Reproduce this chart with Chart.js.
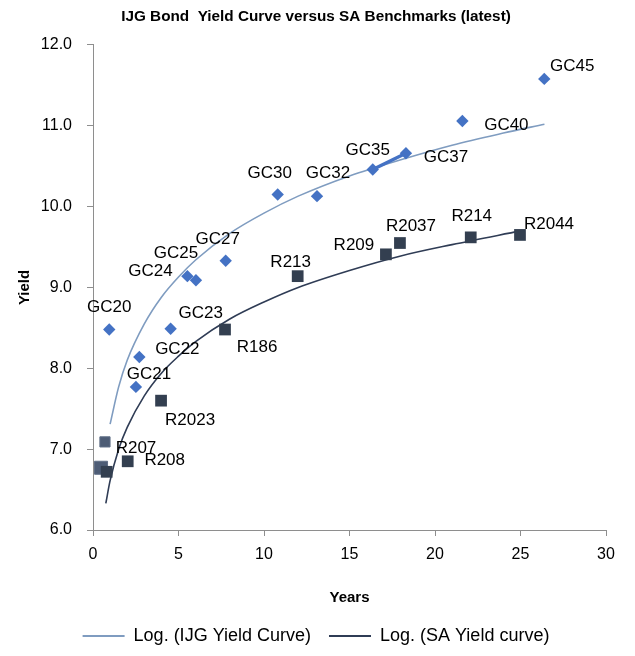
<!DOCTYPE html>
<html>
<head>
<meta charset="utf-8">
<script src="https://cdn.jsdelivr.net/npm/chart.js@4/dist/chart.umd.min.js"></script>
<style>
  html, body { margin: 0; padding: 0; background: #ffffff; }
  #wrap { width: 635px; height: 656px; }
</style>
</head>
<body>
<div id="wrap"><canvas id="c" width="635" height="656"></canvas></div>
<script>
// ---- data ----
const chartTitle = 'IJG Bond  Yield Curve versus SA Benchmarks (latest)';
const xTitle = 'Years';
const yTitle = 'Yield';

const ijgLabels = ['GC20','GC21','GC22','GC23','GC24','GC25','GC27','GC30','GC32','GC35','GC37','GC40','GC45'];
const ijgYears  = [0.95, 2.51, 2.71, 4.54, 5.52, 6.02, 7.76, 10.80, 13.10, 16.36, 18.30, 21.60, 26.39];
const ijgYields = [8.48, 7.77, 8.14, 8.49, 9.14, 9.09, 9.33, 10.15, 10.13, 10.46, 10.66, 11.06, 11.58];

const saLabels = ['', 'R208', 'R2023', 'R186', 'R213', 'R209', 'R2037', 'R214', 'R2044'];
const saYears  = [0.80, 2.03, 3.98, 7.72, 11.97, 17.13, 17.95, 22.09, 24.97];
const saYields = [6.72, 6.85, 7.60, 8.48, 9.14, 9.41, 9.55, 9.62, 9.65];

const saShortLabels = ['R207', ''];
const saShortYears  = [0.70, 0.47];
const saShortYields = [7.09, 6.77];

const ijgTrendYears  = [1.0, 1.5, 2, 3, 4, 5, 6, 8, 10, 12, 15, 18, 21, 24, 26.4];
const ijgTrendYields = [7.31, 7.77, 8.10, 8.55, 8.88, 9.13, 9.34, 9.67, 9.92, 10.13, 10.38, 10.58, 10.76, 10.91, 11.02];

const saTrendYears  = [0.75, 1, 1.5, 2, 3, 4, 5, 6, 8, 10, 12, 15, 18, 21, 25];
const saTrendYields = [6.33, 6.61, 7.00, 7.27, 7.66, 7.94, 8.15, 8.33, 8.61, 8.82, 9.00, 9.21, 9.39, 9.53, 9.70];

const legendNames = ['Log. (IJG Yield Curve)', 'Log. (SA Yield curve)'];

const xTicks = [0, 5, 10, 15, 20, 25, 30];
const yTicks = [6, 7, 8, 9, 10, 11, 12];

// ---- styling (not data) ----
const labelOffsets = {
  GC20: [0, -22], GC21: [13, -13], GC22: [38, -8], GC23: [30, -15], GC24: [-37, -5],
  GC25: [-20, -27], GC27: [-8, -21], GC30: [-8, -21], GC32: [11, -23], GC35: [-5, -19],
  GC37: [40, 4], GC40: [44, 4], GC45: [28, -13],
  R207: [31, 6], R208: [37, -1], R2023: [29, 20], R186: [32, 18], R213: [-7, -14],
  R209: [-32, -9], R2037: [11, -17], R214: [1, -21], R2044: [29, -11]
};
const FONT = '"Liberation Sans", Arial, sans-serif';
const axisColor = '#8E8E8E';

function pts(xs, ys) { return xs.map((x, i) => ({x: x, y: ys[i]})); }

const i35 = ijgLabels.indexOf('GC35'), i37 = ijgLabels.indexOf('GC37');

const datasets = [
  { label: 'SA Yield curve', data: pts(saYears, saYields), pointLabels: saLabels,
    pointStyle: 'rect', pointRadius: 8.3, pointHoverRadius: 8.3,
    backgroundColor: '#333F50', borderColor: '#333F50', borderWidth: 0, showLine: false },
  { label: 'IJG Yield Curve', data: pts(ijgYears, ijgYields), pointLabels: ijgLabels,
    pointStyle: 'rectRot', pointRadius: 6.2, pointHoverRadius: 6.2,
    backgroundColor: '#4472C4', borderColor: '#4472C4', borderWidth: 0, showLine: false },
  { label: 'GC35-GC37', data: [{x: ijgYears[i35], y: ijgYields[i35]}, {x: ijgYears[i37], y: ijgYields[i37]}],
    pointRadius: 0, showLine: true, borderColor: '#4472C4', borderWidth: 3.5 },
  { label: 'SA short', data: pts(saShortYears, saShortYields), pointLabels: saShortLabels,
    pointStyle: 'rect', pointRadius: [7.2, 9.2], pointHoverRadius: [7.2, 9.2],
    backgroundColor: '#4D5C75', borderColor: '#5F6E86', borderWidth: 1, showLine: false },
  { label: legendNames[0], data: pts(ijgTrendYears, ijgTrendYields), isTrend: true,
    pointRadius: 0, showLine: true, borderColor: '#7F9CC0', backgroundColor: '#7F9CC0',
    borderWidth: 1.6, cubicInterpolationMode: 'monotone' },
  { label: legendNames[1], data: pts(saTrendYears, saTrendYields), isTrend: true,
    pointRadius: 0, showLine: true, borderColor: '#2F3C55', backgroundColor: '#2F3C55',
    borderWidth: 1.6, cubicInterpolationMode: 'monotone' }
];

const pointLabelPlugin = {
  id: 'pointLabelPlugin',
  afterDatasetsDraw(chart) {
    const ctx = chart.ctx;
    ctx.save();
    ctx.font = '17px ' + FONT;
    ctx.fillStyle = '#000000';
    ctx.textAlign = 'center';
    ctx.textBaseline = 'middle';
    chart.data.datasets.forEach((ds, di) => {
      if (!ds.pointLabels) return;
      const meta = chart.getDatasetMeta(di);
      meta.data.forEach((el, i) => {
        const t = ds.pointLabels[i];
        if (!t) return;
        const off = labelOffsets[t] || [0, -18];
        ctx.fillText(t, el.x + off[0], el.y + off[1]);
      });
    });
    ctx.restore();
  }
};

new Chart(document.getElementById('c'), {
  type: 'scatter',
  data: { datasets: datasets },
  plugins: [pointLabelPlugin],
  options: {
    responsive: false,
    animation: false,
    layout: { padding: { left: 26, right: 29, top: 0, bottom: 1 } },
    plugins: {
      tooltip: { enabled: false },
      title: {
        display: true, text: chartTitle, color: '#000000',
        font: { family: FONT, size: 15.3, weight: 'bold', lineHeight: 1.2 },
        padding: { top: 7.8, bottom: 18.8 }
      },
      legend: {
        display: true, position: 'bottom',
        labels: {
          color: '#000000',
          font: { family: FONT, size: 18, lineHeight: 1 },
          boxWidth: 42, boxHeight: 2, padding: 18,
          generateLabels(chart) {
            return chart.data.datasets.map((ds, i) => ({ ds, i }))
              .filter(o => o.ds.isTrend)
              .map(o => ({
                text: o.ds.label, fillStyle: o.ds.borderColor, strokeStyle: o.ds.borderColor,
                lineWidth: 0, hidden: false, datasetIndex: o.i, fontColor: '#000000'
              }));
          }
        }
      }
    },
    scales: {
      x: {
        type: 'linear', min: 0, max: 30,
        afterBuildTicks(scale) { scale.ticks = xTicks.map(v => ({ value: v })); },
        afterFit(scale) { scale.height = 79; },
        ticks: { color: '#000000', font: { family: FONT, size: 16 }, padding: 9.4, maxRotation: 0 },
        grid: { drawOnChartArea: false, drawTicks: true, tickLength: 6, color: axisColor, lineWidth: 1 },
        border: { display: true, color: axisColor, width: 1 },
        title: { display: true, text: xTitle, color: '#000000',
          font: { family: FONT, size: 15, weight: 'bold', lineHeight: 1.2 }, padding: { top: 0, bottom: 2 } }
      },
      y: {
        type: 'linear', min: 6, max: 12,
        afterBuildTicks(scale) { scale.ticks = yTicks.map(v => ({ value: v })); },
        afterFit(scale) { scale.width = 67; },
        ticks: { color: '#000000', font: { family: FONT, size: 16 }, padding: 15,
          callback: v => Number(v).toFixed(1) },
        grid: { drawOnChartArea: false, drawTicks: true, tickLength: 6, color: axisColor, lineWidth: 1 },
        border: { display: true, color: axisColor, width: 1 },
        title: { display: true, text: yTitle, color: '#000000',
          font: { family: FONT, size: 15, weight: 'bold', lineHeight: 1.2 }, padding: { top: -10.5, bottom: 0 } }
      }
    }
  }
});
</script>
</body>
</html>
